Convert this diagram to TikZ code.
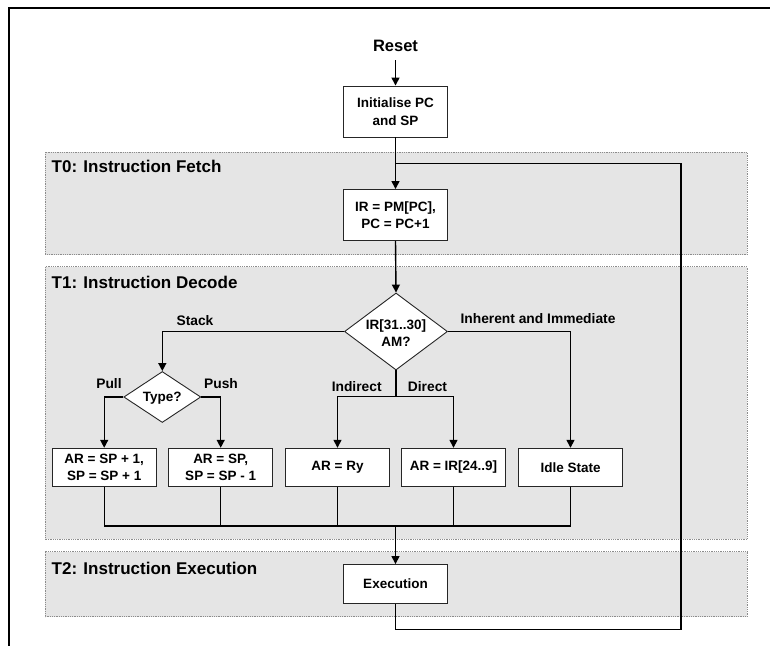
\documentclass[tikz,border=0pt]{standalone}
\usepackage{fontspec}
\setmainfont{Liberation Sans}
\usetikzlibrary{shapes.geometric,arrows.meta,calc}
\begin{document}
\begin{tikzpicture}[x=1pt,y=-1pt,
  panel/.style={fill=black!10,draw=black!45,densely dotted,line width=0.8pt},
  stepbox/.style={draw=black!85,fill=white,line width=0.9pt,inner sep=0pt,
    minimum width=104pt,align=center,font=\bfseries\fontsize{13.5}{17.5}\selectfont},
  dia/.style={diamond,draw=black!85,fill=white,line width=0.9pt,inner sep=0pt},
  txt/.style={font=\bfseries\fontsize{13.5}{17}\selectfont,inner sep=0pt,align=center},
  lbl/.style={font=\bfseries\fontsize{13.8}{17}\selectfont,inner sep=0pt,anchor=base},
  ttl/.style={font=\bfseries\fontsize{17}{20}\selectfont,inner sep=0pt,anchor=base west},
  conn/.style={line width=1.4pt,draw=black},
  arr/.style={conn,-{Triangle[length=8pt,width=8pt]}}]
\useasboundingbox (0,0) rectangle (770,645);
\fill[white] (0,0) rectangle (770,645);
% outer frame
\draw[line width=2pt] (9.3,660) -- (9.3,8) -- (780,8);
% panels
\draw[panel] (45,152) rectangle (747,254.5);
\draw[panel] (45,266.7) rectangle (747,539.3);
\draw[panel] (45,551.7) rectangle (747,616.7);
\node[ttl] (t0) at (51.5,172) {T0: Instruction Fetch};
\node[ttl] (t1) at (51.5,288) {T1: Instruction Decode};
\node[ttl] (t2) at (51.5,574) {T2: Instruction Execution};
% nodes
\node[font=\bfseries\fontsize{16.5}{20}\selectfont,inner sep=0pt] (reset) at (395.5,46) {Reset};
\coordinate (rs) at (395.5,60);
\node[stepbox,minimum height=51pt] (init) at (395.5,111.5) {Initialise PC\\and SP};
\node[stepbox,minimum height=51pt] (ir) at (395.5,215) {IR = PM[PC],\\PC = PC+1};
\node[dia,minimum width=103pt,minimum height=77pt] (am) at (396,331.5) {};
\node[txt] (amt) at (396,333) {IR[31..30]\\AM?};
\node[dia,minimum width=77pt,minimum height=51pt] (ty) at (162.3,397) {};
\node[txt] (tyt) at (162.3,398) {Type?};
\node[stepbox,minimum height=38.5pt] (b1) at (104.2,467.5) {AR = SP + 1,\\SP = SP + 1};
\node[stepbox,minimum height=38.5pt] (b2) at (220.7,467.5) {AR = SP,\\SP = SP - 1};
\node[stepbox,minimum height=38.5pt] (b3) at (337.5,467.5) {AR = Ry};
\node[stepbox,minimum height=38.5pt] (b4) at (453.5,467.5) {AR = IR[24..9]};
\node[stepbox,minimum height=38.5pt] (b5) at (570.5,467.5) {Idle State};
\node[stepbox,minimum height=39pt] (ex) at (395.5,584) {Execution};
% labels
\node[lbl] (lstack) at (195,325) {Stack};
\node[lbl] (lpull) at (109,388) {Pull};
\node[lbl] (lpush) at (221,388) {Push};
\node[lbl] (lind) at (356.7,391.7) {Indirect};
\node[lbl] (ldir) at (427.5,391.7) {Direct};
\node[lbl] (linh) at (538,323.3) {Inherent and Immediate};
% connectors
\draw[arr] (rs) -- (init.north);
\draw[arr] (init.south) -- (ir.north);
\draw[arr] (ir.south) -- (am.north);
\draw[arr] (am.west) -| (ty.north);
\draw[arr] (ty.west) -| (b1.north);
\draw[arr] (ty.east) -| (b2.north);
\coordinate (sp) at (396,396.7);
\draw[conn] (am.south) -- (sp);
\draw[arr] (sp) -| (b3.north);
\draw[arr] (sp) -| (b4.north);
\draw[arr] (am.east) -| (b5.north);
\coordinate (mr) at (570.5,526);
\coordinate (mid) at (395.5,526);
\draw[conn] (b1.south) |- (mr) -- (b5.south);
\draw[conn] (b2.south) -- (b2.south |- mr);
\draw[conn] (b3.south) -- (b3.south |- mr);
\draw[conn] (b4.south) -- (b4.south |- mr);
\draw[arr] (mid) -- (ex.north);
\coordinate (lb) at (681,629.3);
\coordinate (lt) at (681,163.5);
\coordinate (jn) at (395.5,163.5);
\draw[conn] (ex.south) |- (lb) -- (lt) -- (jn);
\end{tikzpicture}
\end{document}
